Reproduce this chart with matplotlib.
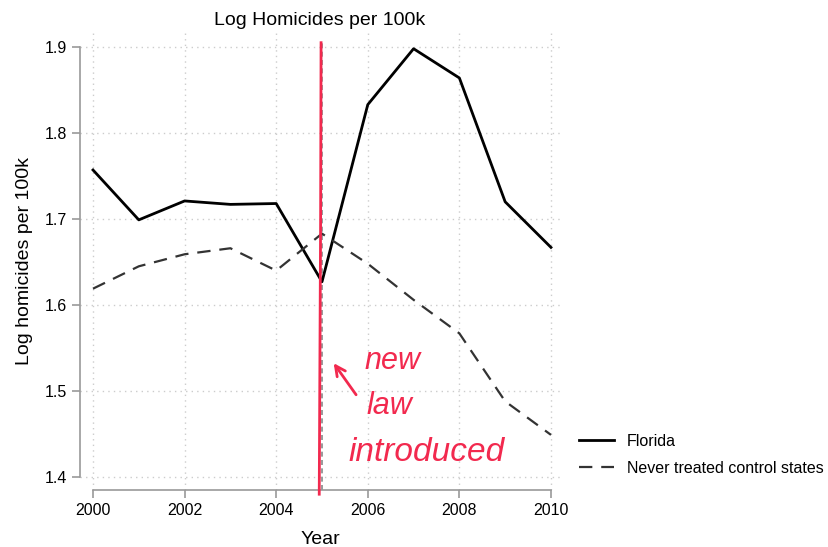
import numpy as np
import matplotlib
matplotlib.use("Agg")
import matplotlib.pyplot as plt

plt.rcParams["font.family"] = ["Liberation Sans", "DejaVu Sans"]

# data
years = [2000, 2001, 2002, 2003, 2004, 2005, 2006, 2007, 2008, 2009, 2010]
florida = [1.757, 1.699, 1.721, 1.717, 1.718, 1.627, 1.833, 1.898, 1.864, 1.720, 1.667]
control = [1.619, 1.645, 1.659, 1.666, 1.640, 1.683, 1.648, 1.606, 1.567, 1.488, 1.449]
x_ticks = [2000, 2002, 2004, 2006, 2008, 2010]
y_ticks = [1.4, 1.5, 1.6, 1.7, 1.8, 1.9]
law_year = 2005
note_lines = ["new", "law", "introduced"]

fig = plt.figure(figsize=(8.29, 5.47), dpi=100)
ax = fig.add_axes([0.0965, 0.1042, 0.579, 0.8355])

ax.plot(years, florida, color="black", lw=2.0, label="Florida")
ax.plot(years, control, color="#333333", lw=1.6, ls=(0, (6, 4)),
        label="Never treated control states")
ax.axvline(law_year, ymin=0.0, ymax=0.985, color="#888888", lw=1.2,
           ls=(0, (3, 2)), zorder=1)

ax.set_xlim(1999.716, 2010.197)
ax.set_ylim(1.3849, 1.9163)
ax.set_xticks(x_ticks)
ax.set_yticks(y_ticks)
ax.set_yticklabels([f"{v:.1f}" for v in y_ticks])
ax.grid(True, color="#cccccc", ls=(0, (1, 3)), lw=1.0)

for side in ("top", "right"):
    ax.spines[side].set_visible(False)
ax.spines["left"].set_bounds(1.4, 1.9)
ax.spines["bottom"].set_bounds(2000, 2010)
for side in ("left", "bottom"):
    ax.spines[side].set_color("#999999")
    ax.spines[side].set_linewidth(1.2)
ax.tick_params(colors="#999999", labelcolor="black", labelsize=11.5,
               length=6, width=1.2)

ax.set_title("Log Homicides per 100k", fontsize=14, pad=6)
ax.set_xlabel("Year", fontsize=14, labelpad=9)
ax.set_ylabel("Log homicides per 100k", fontsize=14, labelpad=8)

leg = ax.legend(loc="upper left", bbox_to_anchor=(1.01, 0.155),
                frameon=False, fontsize=11.5, handlelength=2.2,
                handletextpad=0.8, labelspacing=0.75)

# hand-drawn style annotation
red = "#f2294e"
ax.plot([law_year - 0.02, law_year - 0.03, law_year - 0.06],
        [1.905, 1.70, 1.38], color=red, lw=2.0, clip_on=False, zorder=6)
ax.annotate("", xy=(2005.22, 1.535), xytext=(2005.78, 1.493),
            arrowprops=dict(arrowstyle="->", color=red, lw=2.0,
                            mutation_scale=18))
for txt, xv, yv, fs in zip(note_lines, [2005.93, 2005.98, 2005.57],
                           [1.535, 1.483, 1.428], [22, 22, 24]):
    ax.text(xv, yv, txt, color=red, fontsize=fs, style="italic",
            ha="left", va="center")

fig.savefig("out.png", dpi=100)
